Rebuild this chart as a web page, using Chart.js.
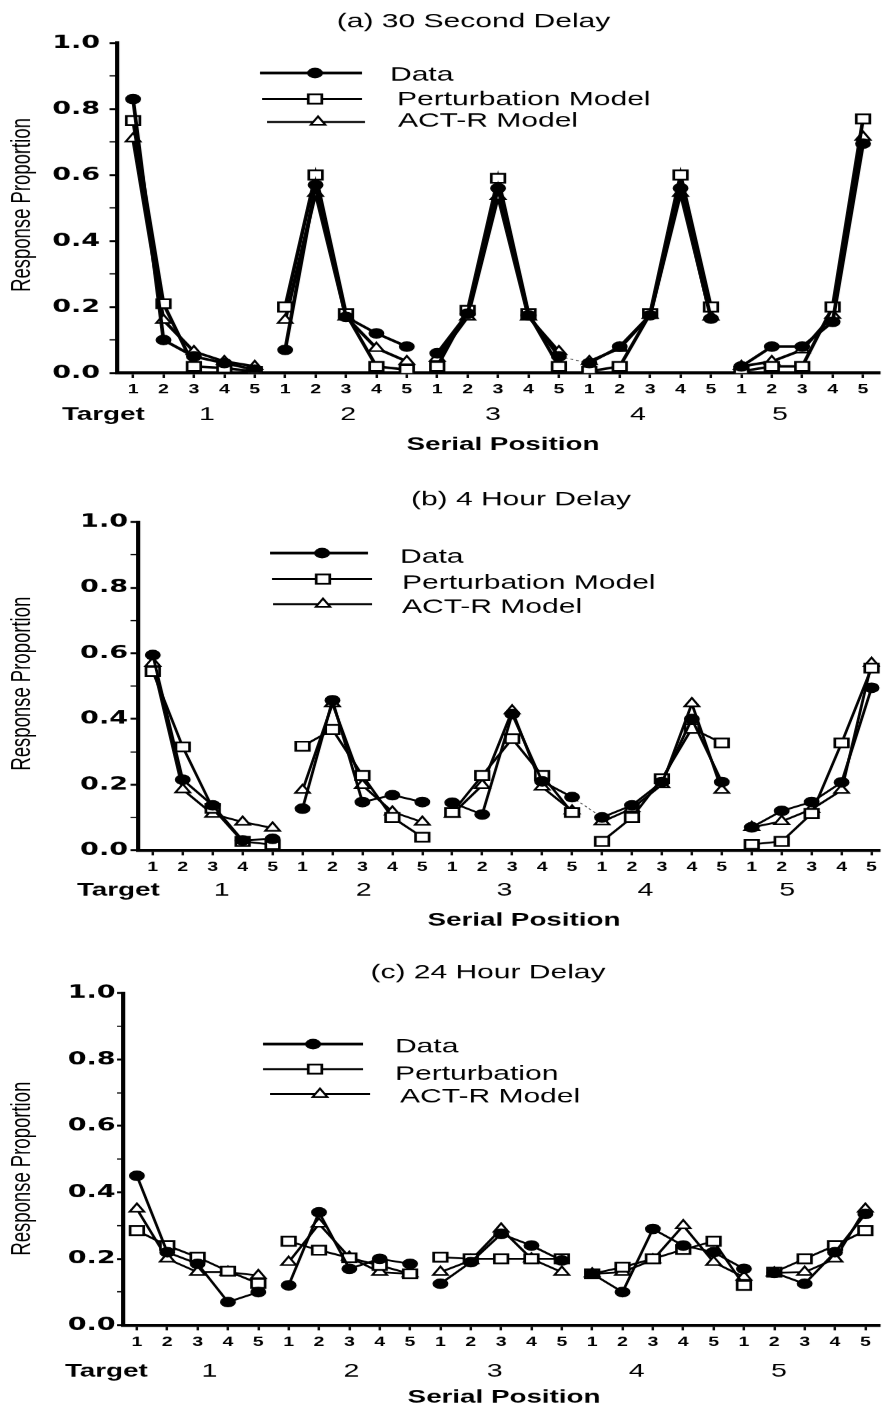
<!DOCTYPE html>
<html>
<head>
<meta charset="utf-8">
<script src="https://cdn.jsdelivr.net/npm/chart.js@4.4.1/dist/chart.umd.min.js"></script>
<style>
  html, body { margin: 0; padding: 0; background: #fff; }
  body { width: 892px; height: 1410px; overflow: hidden; position: relative; }
  .panel { position: absolute; left: 0; width: 595px; transform: scaleX(1.4992); transform-origin: 0 0; }
</style>
</head>
<body>
<div class="panel" id="pa" style="top:0;height:470px"><canvas id="ca"></canvas></div>
<div class="panel" id="pb" style="top:470px;height:475px"><canvas id="cb"></canvas></div>
<div class="panel" id="pc" style="top:945px;height:465px"><canvas id="cc"></canvas></div>
<script>
// serial positions 1..25 (5 targets x 5 positions)
const positions = [1,2,3,4,5,6,7,8,9,10,11,12,13,14,15,16,17,18,19,20,21,22,23,24,25];
const serialLabels = ['1','2','3','4','5'];
const targetLabels = ['1','2','3','4','5'];
const yTicks = [0, 0.2, 0.4, 0.6, 0.8, 1.0];

// (a) 30 second delay
const dataA = [0.83, 0.10, 0.05, 0.03, 0.01, 0.07, 0.57, 0.17, 0.12, 0.08, 0.06, 0.18, 0.56, 0.175, 0.05, 0.03, 0.08, 0.175, 0.56, 0.165, 0.02, 0.08, 0.08, 0.155, 0.695];
const pertA = [0.765, 0.21, 0.02, 0.015, 0.005, 0.20, 0.60, 0.18, 0.02, 0.01, 0.02, 0.19, 0.59, 0.18, 0.02, 0.005, 0.02, 0.18, 0.60, 0.20, 0.005, 0.02, 0.02, 0.20, 0.77];
const actrA = [0.71, 0.16, 0.065, 0.035, 0.02, 0.16, 0.545, 0.17, 0.075, 0.035, 0.045, 0.17, 0.535, 0.17, 0.065, 0.035, 0.075, 0.175, 0.545, 0.17, 0.02, 0.035, 0.07, 0.175, 0.715];

// (b) 4 hour delay
const dataB = [0.595, 0.215, 0.137, 0.03, 0.035, 0.127, 0.457, 0.147, 0.168, 0.147, 0.145, 0.109, 0.415, 0.21, 0.162, 0.10, 0.137, 0.208, 0.40, 0.208, 0.07, 0.12, 0.147, 0.207, 0.495];
const pertB = [0.545, 0.315, 0.128, 0.027, 0.017, 0.317, 0.368, 0.228, 0.10, 0.04, 0.115, 0.228, 0.34, 0.228, 0.115, 0.027, 0.10, 0.218, 0.371, 0.327, 0.018, 0.027, 0.112, 0.327, 0.555];
const actrB = [0.57, 0.185, 0.11, 0.086, 0.068, 0.183, 0.447, 0.198, 0.117, 0.086, 0.11, 0.198, 0.425, 0.193, 0.12, 0.087, 0.127, 0.20, 0.447, 0.183, 0.07, 0.088, 0.125, 0.183, 0.57];

// (c) 24 hour delay
const dataC = [0.45, 0.22, 0.185, 0.07, 0.10, 0.12, 0.34, 0.17, 0.20, 0.185, 0.125, 0.19, 0.275, 0.24, 0.195, 0.155, 0.10, 0.29, 0.24, 0.22, 0.17, 0.158, 0.125, 0.22, 0.335];
const pertC = [0.285, 0.24, 0.205, 0.163, 0.126, 0.253, 0.226, 0.203, 0.18, 0.155, 0.205, 0.20, 0.20, 0.20, 0.20, 0.155, 0.175, 0.20, 0.228, 0.253, 0.12, 0.16, 0.20, 0.24, 0.285];
const actrC = [0.35, 0.20, 0.16, 0.16, 0.15, 0.19, 0.305, 0.205, 0.16, 0.155, 0.16, 0.195, 0.29, 0.20, 0.16, 0.155, 0.16, 0.197, 0.30, 0.19, 0.145, 0.158, 0.16, 0.20, 0.35];

// where the curves are broken (segment i -> i+1 not drawn), and the thin data link
const breaksAB = [4, 9, 14, 19];
const breaksC = [4, 9, 14, 20];
const dataLinkAB = [14];

const namesAB = ['Data', 'Perturbation Model', 'ACT-R Model'];
const namesC = ['Data', 'Perturbation', 'ACT-R Model'];

const FONT = '"Liberation Sans", Arial, sans-serif';
const marks = [
  { style: 'circle', radius: 4.8, fill: '#000', bw: 1 },
  { style: 'rect', radius: 6.4, fill: '#fff', bw: 1.8 },
  { style: 'triangle', radius: 5.6, fill: '#fff', bw: 1.6 }
];

function drawMark(ctx, m, x, y) {
  ctx.beginPath();
  if (m.style === 'circle') {
    ctx.arc(x, y, m.radius, 0, Math.PI * 2);
  } else if (m.style === 'rect') {
    const s = m.radius * Math.SQRT1_2;
    ctx.rect(x - s, y - s, 2 * s, 2 * s);
  } else {
    const r = m.radius;
    ctx.moveTo(x, y - r);
    ctx.lineTo(x + r * 0.866, y + r * 0.5);
    ctx.lineTo(x - r * 0.866, y + r * 0.5);
    ctx.closePath();
  }
  ctx.fillStyle = m.fill;
  ctx.fill();
  ctx.lineWidth = m.bw;
  ctx.strokeStyle = '#000';
  ctx.stroke();
}

const deco = {
  id: 'deco',
  afterDraw(chart, args, o) {
    const ctx = chart.ctx;
    const xs = chart.scales.x;
    ctx.save();
    ctx.fillStyle = '#000';
    ctx.textBaseline = 'middle';

    ctx.font = '20px ' + FONT;
    ctx.textAlign = 'center';
    ctx.fillText(o.title, o.titleAt[0], o.titleAt[1]);

    o.legend.forEach((row, i) => {
      ctx.strokeStyle = '#000';
      ctx.lineWidth = i === 0 ? 2.6 : 2;
      ctx.beginPath();
      ctx.moveTo(row.x0, row.y);
      ctx.lineTo(row.x1, row.y);
      ctx.stroke();
      drawMark(ctx, marks[i], row.mx, row.y);
      ctx.fillStyle = '#000';
      ctx.font = '20px ' + FONT;
      ctx.textAlign = 'left';
      ctx.fillText(o.names[i], row.tx, row.ty);
    });

    ctx.font = 'bold 18.5px ' + FONT;
    ctx.textAlign = 'left';
    ctx.fillText('Target', o.targetAt[0], o.targetAt[1]);
    ctx.font = '19px ' + FONT;
    ctx.textAlign = 'center';
    targetLabels.forEach((t, i) => {
      ctx.fillText(t, xs.getPixelForValue(o.targetPos[i]), o.targetAt[1]);
    });

    ctx.font = 'bold 18.5px ' + FONT;
    ctx.fillText('Serial Position', o.serialAt[0], o.serialAt[1]);

    ctx.translate(o.yTitleAt[0], o.yTitleAt[1]);
    ctx.rotate(-Math.PI / 2);
    ctx.font = '18.5px ' + FONT;
    ctx.fillText('Response Proportion', 0, 0);
    ctx.restore();
  }
};

function makePanel(id, P) {
  const el = document.getElementById(id);
  const H = P.height;
  const series = [P.data, P.pert, P.actr];
  const datasets = series.map((vals, k) => ({
    label: P.names[k],
    data: vals.map((v, i) => ({ x: positions[i], y: v })),
    borderColor: '#000',
    borderWidth: P.lineWidth,
    pointStyle: marks[k].style,
    pointRadius: marks[k].radius,
    pointBackgroundColor: marks[k].fill,
    pointBorderColor: '#000',
    pointBorderWidth: marks[k].bw,
    tension: 0,
    segment: {
      borderColor: c => {
        const i = c.p0DataIndex;
        if (k === 0 && P.links.includes(i)) return '#444';
        if (P.breaks.includes(i)) return 'rgba(0,0,0,0)';
        return undefined;
      },
      borderWidth: c => (k === 0 && P.links.includes(c.p0DataIndex)) ? 0.8 : undefined,
      borderDash: c => (k === 0 && P.links.includes(c.p0DataIndex)) ? [2, 2] : undefined
    }
  }));

  return new Chart(el, {
    type: 'line',
    data: { datasets },
    plugins: [deco],
    options: {
      responsive: true,
      maintainAspectRatio: false,
      devicePixelRatio: 1.5,
      animation: false,
      events: [],
      layout: { padding: { top: P.area.top, right: 595 - P.area.right, left: 0, bottom: 0 } },
      plugins: {
        legend: { display: false },
        title: { display: false },
        tooltip: { enabled: false },
        deco: P.deco
      },
      scales: {
        x: {
          type: 'linear',
          min: P.xMin,
          max: P.xMax,
          afterFit: s => { s.height = H - P.area.bottom; },
          border: { display: true, color: '#000', width: 3 },
          grid: { drawOnChartArea: false, drawTicks: true, tickLength: 5, tickColor: '#000', tickWidth: 1.6 },
          ticks: {
            stepSize: 1,
            includeBounds: false,
            autoSkip: false,
            maxRotation: 0,
            padding: 4,
            color: '#000',
            font: { family: FONT, weight: 'bold', size: 13 },
            callback: v => serialLabels[(Math.round(v) - 1) % 5]
          }
        },
        y: {
          min: 0,
          max: 1,
          afterFit: s => { s.width = P.area.left; },
          border: { display: true, color: '#000', width: 2.8 },
          grid: {
            drawOnChartArea: false, drawTicks: true, tickLength: P.yTickLen, tickColor: '#000',
            tickWidth: c => (Math.round(c.tick.value * 10) % 2 === 0 ? 2 : 1.2)
          },
          ticks: {
            stepSize: 0.1,
            padding: P.yPad,
            color: '#000',
            font: { family: '"DejaVu Sans", sans-serif', weight: 'bold', size: 18 },
            callback: v => {
              const t = Math.round(v * 10);
              return yTicks.some(y => Math.round(y * 10) === t) ? (t / 10).toFixed(1) : '';
            }
          }
        }
      }
    }
  });
}

makePanel('ca', {
  height: 470,
  area: { left: 78, right: 586.7, top: 43, bottom: 373 },
  xMin: 0.472, xMax: 25.56,
  yTickLen: 5, yPad: 6.3, lineWidth: 2.5,
  data: dataA, pert: pertA, actr: actrA, names: namesAB,
  breaks: breaksAB, links: dataLinkAB,
  deco: {
    title: '(a) 30 Second Delay', titleAt: [315.7, 22],
    names: namesAB,
    legend: [
      { x0: 173.3, x1: 241.3, y: 73, mx: 210, tx: 260, ty: 75 },
      { x0: 174.7, x1: 241.3, y: 99, mx: 210, tx: 264.7, ty: 100 },
      { x0: 178, x1: 243.3, y: 122, mx: 212, tx: 265.3, ty: 121 }
    ],
    targetAt: [41.3, 415], targetPos: [3.43, 8.07, 12.83, 17.6, 22.27],
    serialAt: [335.3, 445], yTitleAt: [14.7, 205]
  }
});

makePanel('cb', {
  height: 475,
  area: { left: 92, right: 594.6, top: 52, bottom: 380 },
  xMin: 0.507, xMax: 25.29,
  yTickLen: 5, yPad: 1.7, lineWidth: 1.9,
  data: dataB, pert: pertB, actr: actrB, names: namesAB,
  breaks: breaksAB, links: dataLinkAB,
  deco: {
    title: '(b) 4 Hour Delay', titleAt: [347.3, 30],
    names: namesAB,
    legend: [
      { x0: 180, x1: 245.3, y: 83, mx: 214.7, tx: 266.7, ty: 87 },
      { x0: 181.3, x1: 248, y: 109, mx: 215.3, tx: 268, ty: 113 },
      { x0: 182, x1: 248, y: 134, mx: 215.3, tx: 268, ty: 137 }
    ],
    targetAt: [51.3, 420], targetPos: [3.30, 8.04, 12.74, 17.45, 22.18],
    serialAt: [349.3, 450], yTitleAt: [14.7, 213.5]
  }
});

makePanel('cc', {
  height: 465,
  area: { left: 82, right: 590, top: 48, bottom: 380 },
  xMin: 0.543, xMax: 25.49,
  yTickLen: 4, yPad: 1, lineWidth: 1.9,
  data: dataC, pert: pertC, actr: actrC, names: namesC,
  breaks: breaksC, links: [],
  deco: {
    title: '(c) 24 Hour Delay', titleAt: [325.3, 28],
    names: namesC,
    legend: [
      { x0: 175.3, x1: 242, y: 99, mx: 208.7, tx: 263.3, ty: 102 },
      { x0: 175.3, x1: 242, y: 124, mx: 210, tx: 263.3, ty: 129 },
      { x0: 180, x1: 246.7, y: 149, mx: 213.3, tx: 266.7, ty: 152 }
    ],
    targetAt: [43.3, 426], targetPos: [3.39, 8.07, 12.79, 17.47, 22.15],
    serialAt: [336, 452], yTitleAt: [14.7, 223.5]
  }
});
</script>
</body>
</html>
